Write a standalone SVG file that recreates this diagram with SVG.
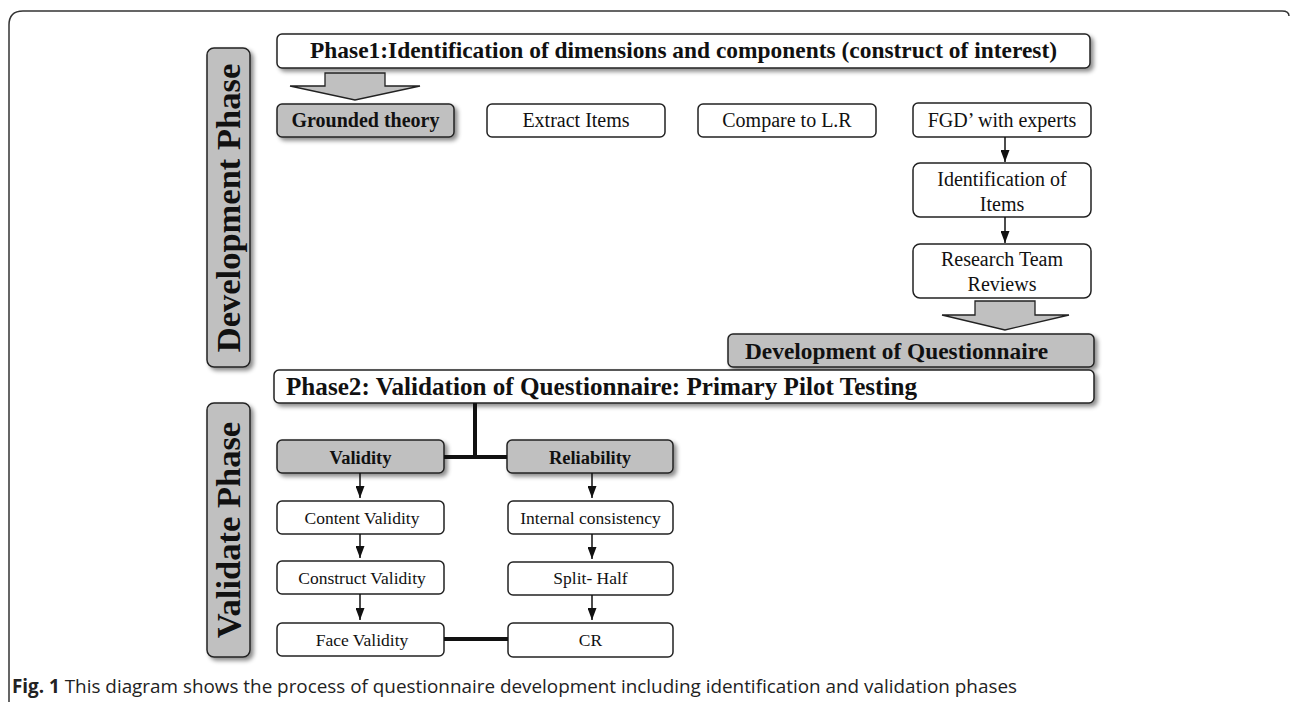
<svg xmlns="http://www.w3.org/2000/svg" width="1290" height="702" viewBox="0 0 1290 702">
<defs>
<filter id="sh" x="-10%" y="-30%" width="130%" height="180%">
<feDropShadow dx="3" dy="3" stdDeviation="2" flood-color="#000" flood-opacity="0.45"/>
</filter>
<marker id="ah" viewBox="0 0 12 9" refX="12" refY="4.5" markerWidth="12" markerHeight="9" markerUnits="userSpaceOnUse" orient="auto">
<path d="M0,0 L12,4.5 L0,9 Z" fill="#111"/>
</marker>
</defs>
<style>
.box{fill:#fff;stroke:#222;stroke-width:1.5}
.gbox{fill:#c0c0c0;stroke:#222;stroke-width:1.5}
.big{fill:#c0c0c0;stroke:#222;stroke-width:1.3}
.t{font-family:"Liberation Serif","Times New Roman",serif;fill:#111;text-anchor:middle}
.s{text-anchor:start}
.r20{font-size:20px}
.r17{font-size:17.5px}
.b{font-weight:bold}
.lab{font-family:"Liberation Serif","Times New Roman",serif;font-weight:bold;font-size:34.5px;fill:#111;text-anchor:middle}
.arr{stroke:#111;stroke-width:1.5;fill:none;marker-end:url(#ah)}
.thick{stroke:#111;stroke-width:4;fill:none}
.cap{font-family:"Open Sans","Noto Sans",sans-serif;font-size:19px;fill:#222}
</style>
<path d="M9,702 V25 Q9,11 23,11 H1282 Q1289,11 1289,16" fill="none" stroke="#333" stroke-width="1.5"/>

<g id="dev-phase">
<rect x="207" y="48" width="43" height="319" rx="7" class="gbox" filter="url(#sh)"/>
<text class="lab" transform="translate(240,208) rotate(-90)">Development Phase</text>
</g>
<g id="validate-phase">
<rect x="207" y="403" width="43" height="254" rx="7" class="gbox" filter="url(#sh)"/>
<text class="lab" transform="translate(240,530) rotate(-90)">Validate Phase</text>
</g>

<g id="phase1">
<rect x="277" y="34" width="813" height="34" rx="5" class="box" filter="url(#sh)"/>
<text class="t b s" x="310" y="58" font-size="23.4" textLength="747" lengthAdjust="spacingAndGlyphs">Phase1:Identification of dimensions and components (construct of interest)</text>
</g>
<g id="grounded">
<rect x="277" y="104" width="177" height="33" rx="5" class="gbox" filter="url(#sh)"/>
<text class="t b r20" x="365.5" y="127">Grounded theory</text>
</g>
<g id="extract">
<rect x="487" y="104" width="178" height="33" rx="5" class="box"/>
<text class="t r20" x="576" y="127">Extract Items</text>
</g>
<g id="compare">
<rect x="698" y="104" width="178" height="33" rx="5" class="box"/>
<text class="t r20" x="787" y="127">Compare to L.R</text>
</g>
<g id="fgd">
<rect x="913" y="103" width="178" height="34" rx="5" class="box"/>
<text class="t r20" x="1002" y="127">FGD’ with experts</text>
</g>
<g id="ident">
<rect x="913" y="163" width="178" height="54" rx="7" class="box"/>
<text class="t r20" x="1002" y="186">Identification of</text>
<text class="t r20" x="1002" y="211">Items</text>
</g>
<g id="research">
<rect x="913" y="244" width="178" height="54" rx="7" class="box"/>
<text class="t r20" x="1002" y="266">Research Team</text>
<text class="t r20" x="1002" y="291">Reviews</text>
</g>
<g id="devq">
<rect x="728" y="334" width="366" height="33" rx="5" class="gbox" filter="url(#sh)"/>
<text class="t b s" x="745" y="359" font-size="23.4" textLength="303" lengthAdjust="spacingAndGlyphs">Development of Questionnaire</text>
</g>
<g id="phase2">
<rect x="274" y="370" width="820" height="33" rx="5" class="box" filter="url(#sh)"/>
<text class="t b s" x="286" y="395" font-size="24.5" textLength="631" lengthAdjust="spacingAndGlyphs">Phase2: Validation of Questionnaire: Primary Pilot Testing</text>
</g>
<g id="validity">
<rect x="277" y="440" width="167" height="33" rx="5" class="gbox" filter="url(#sh)"/>
<text class="t b" x="360.5" y="464" font-size="18.5">Validity</text>
</g>
<g id="reliability">
<rect x="507" y="440" width="166" height="33" rx="5" class="gbox" filter="url(#sh)"/>
<text class="t b" x="590" y="464" font-size="18.5">Reliability</text>
</g>
<g id="content">
<rect x="277" y="501" width="167" height="33" rx="5" class="box"/>
<text class="t r17" x="362" y="524">Content Validity</text>
</g>
<g id="internal">
<rect x="508" y="501" width="165" height="33" rx="5" class="box"/>
<text class="t r17" x="590.5" y="524">Internal consistency</text>
</g>
<g id="construct">
<rect x="277" y="561" width="167" height="33" rx="5" class="box"/>
<text class="t r17" x="362" y="584">Construct Validity</text>
</g>
<g id="split">
<rect x="508" y="562" width="165" height="33" rx="5" class="box"/>
<text class="t r17" x="590.5" y="584">Split- Half</text>
</g>
<g id="face">
<rect x="277" y="623" width="167" height="33" rx="5" class="box"/>
<text class="t r17" x="362" y="646">Face Validity</text>
</g>
<g id="cr">
<rect x="508" y="623" width="165" height="34" rx="5" class="box"/>
<text class="t r17" x="590.5" y="646">CR</text>
</g>

<g id="connectors">
<polygon class="big" points="325,73 385,73 385,86 420,86 355,100 290,86 325,86"/>
<polygon class="big" points="975,301 1035,301 1035,315 1069,315 1005,330 942,315 975,315"/>
<line class="arr" x1="1005" y1="137" x2="1005" y2="162"/>
<line class="arr" x1="1005" y1="217" x2="1005" y2="243"/>
<line class="thick" x1="475" y1="403" x2="475" y2="457"/>
<line class="thick" x1="444" y1="457" x2="507" y2="457"/>
<line class="arr" x1="360" y1="473" x2="360" y2="498"/>
<line class="arr" x1="360" y1="534" x2="360" y2="558"/>
<line class="arr" x1="360" y1="594" x2="360" y2="620"/>
<line class="arr" x1="592" y1="473" x2="592" y2="498"/>
<line class="arr" x1="592" y1="534" x2="592" y2="559"/>
<line class="arr" x1="592" y1="595" x2="592" y2="620"/>
<line class="thick" x1="444" y1="639" x2="508" y2="639"/>
</g>

<text class="cap" x="12" y="693" textLength="1005" lengthAdjust="spacingAndGlyphs"><tspan font-weight="bold">Fig. 1</tspan> This diagram shows the process of questionnaire development including identification and validation phases</text>
</svg>
